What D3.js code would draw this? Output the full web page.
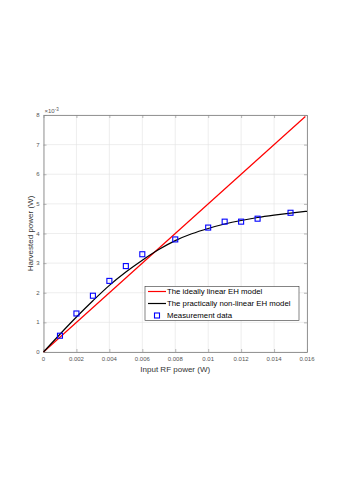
<!DOCTYPE html>
<html>
<head>
<meta charset="utf-8">
<script src="https://cdn.jsdelivr.net/npm/d3@7"></script>
<style>
  body { margin: 0; background: #fff; }
  svg { display: block; font-family: "Liberation Sans", Arial, sans-serif; }
</style>
</head>
<body>
<svg></svg>
<script>
// measurement points (x in W, y in mW)
const measX = [0.001, 0.002, 0.003, 0.004, 0.005, 0.006, 0.008, 0.010, 0.011, 0.012, 0.013, 0.015];
const measY = [0.55, 1.3, 1.9, 2.4, 2.9, 3.3, 3.8, 4.2, 4.4, 4.4, 4.5, 4.7];

// practical non-linear model
const fitX = [0, 0.001, 0.002, 0.003, 0.004, 0.005, 0.006, 0.007, 0.008, 0.009, 0.010, 0.011, 0.012, 0.013, 0.014, 0.015, 0.016];
const fitY = [0, 0.6, 1.18, 1.73, 2.25, 2.7, 3.1, 3.46, 3.76, 3.99, 4.17, 4.32, 4.44, 4.54, 4.62, 4.69, 4.75];

// ideally linear model
const linX = [0, 0.0159];
const linY = [0, 7.95];

const xTicks = [0, 0.002, 0.004, 0.006, 0.008, 0.01, 0.012, 0.014, 0.016];
const xTickLabels = ["0", "0.002", "0.004", "0.006", "0.008", "0.01", "0.012", "0.014", "0.016"];
const yTicks = [0, 1, 2, 3, 4, 5, 6, 7, 8];
const legendLabels = ["The ideally linear EH model", "The practically non-linear EH model", "Measurement data"];

const width = 339, height = 477;
const margin = { top: 115, right: 32, bottom: 125, left: 43.5 };
const innerWidth = width - margin.left - margin.right;
const innerHeight = height - margin.top - margin.bottom;

const x = d3.scaleLinear().domain([0, 0.016]).range([0, innerWidth]);
const y = d3.scaleLinear().domain([0, 8]).range([innerHeight, 0]);

const svg = d3.select("svg").attr("width", width).attr("height", height);
const g = svg.append("g").attr("transform", `translate(${margin.left},${margin.top})`);

// grid
g.append("g").selectAll("line").data(xTicks).enter().append("line")
  .attr("x1", d => x(d)).attr("x2", d => x(d)).attr("y1", 0).attr("y2", innerHeight)
  .attr("stroke", "#e3e3e3").attr("stroke-width", 0.6);
g.append("g").selectAll("line").data(yTicks).enter().append("line")
  .attr("y1", d => y(d)).attr("y2", d => y(d)).attr("x1", 0).attr("x2", innerWidth)
  .attr("stroke", "#e3e3e3").attr("stroke-width", 0.6);

// axes (ticks inside, box on), labels drawn separately
const axisColor = "#8a8a8a";
function styleAxis(sel) {
  sel.select(".domain").attr("stroke", axisColor).attr("stroke-width", 0.9);
  sel.selectAll(".tick line").attr("stroke", axisColor).attr("stroke-width", 0.6);
  sel.selectAll(".tick text").remove();
}
g.append("g").attr("transform", `translate(0,${innerHeight})`)
  .call(d3.axisBottom(x).tickValues(xTicks).tickSizeInner(-3).tickSizeOuter(0)).call(styleAxis);
g.append("g")
  .call(d3.axisTop(x).tickValues(xTicks).tickSizeInner(-3).tickSizeOuter(0)).call(styleAxis);
g.append("g")
  .call(d3.axisLeft(y).tickValues(yTicks).tickSizeInner(-3).tickSizeOuter(0)).call(styleAxis);
g.append("g").attr("transform", `translate(${innerWidth},0)`)
  .call(d3.axisRight(y).tickValues(yTicks).tickSizeInner(-3).tickSizeOuter(0)).call(styleAxis);

g.append("g").selectAll("text").data(xTicks).enter().append("text")
  .attr("x", d => x(d)).attr("y", innerHeight + 8.5)
  .attr("text-anchor", "middle").attr("font-size", "6px").attr("fill", "#555")
  .text((d, i) => xTickLabels[i]);
g.append("g").selectAll("text").data(yTicks).enter().append("text")
  .attr("x", -4).attr("y", d => y(d) + 2.1)
  .attr("text-anchor", "end").attr("font-size", "6px").attr("fill", "#555")
  .text(d => d);

// exponent label
const expo = g.append("text").attr("x", 1).attr("y", -2).attr("fill", "#555").attr("font-size", "6px");
expo.append("tspan").text("\u00d710");
expo.append("tspan").attr("dy", -2.5).attr("font-size", "4.5px").text("-3");

// axis titles
g.append("text").attr("x", innerWidth / 2).attr("y", innerHeight + 20)
  .attr("text-anchor", "middle").attr("font-size", "8px").attr("fill", "#333")
  .text("Input RF power (W)");
g.append("text").attr("transform", `translate(-10.5,${innerHeight / 2}) rotate(-90)`)
  .attr("text-anchor", "middle").attr("font-size", "8px").attr("fill", "#333")
  .text("Harvested power (W)");

// lines
const line = d3.line().x(d => x(d[0])).y(d => y(d[1]));
const linData = linX.map((v, i) => [v, linY[i]]);
const fitData = fitX.map((v, i) => [v, fitY[i]]);
g.append("path").attr("d", line(linData)).attr("fill", "none").attr("stroke", "#ff0000").attr("stroke-width", 1.2);
g.append("path").attr("d", line.curve(d3.curveMonotoneX)(fitData)).attr("fill", "none").attr("stroke", "#000").attr("stroke-width", 1.2);

// markers
const ms = 5;
g.append("g").selectAll("rect").data(measX.map((v, i) => [v, measY[i]])).enter().append("rect")
  .attr("x", d => x(d[0]) - ms / 2).attr("y", d => y(d[1]) - ms / 2)
  .attr("width", ms).attr("height", ms)
  .attr("fill", "none").attr("stroke", "#0000ff").attr("stroke-width", 1.1);

// legend
const lg = svg.append("g").attr("transform", "translate(145,286.5)");
lg.append("rect").attr("width", 154).attr("height", 34).attr("fill", "#fff")
  .attr("stroke", "#333").attr("stroke-width", 0.6);
const rows = [5, 17, 29];
const colors = ["#ff0000", "#000"];
legendLabels.forEach((lab, i) => {
  if (i < 2) {
    lg.append("line").attr("x1", 3).attr("x2", 21).attr("y1", rows[i]).attr("y2", rows[i])
      .attr("stroke", colors[i]).attr("stroke-width", 1.2);
  } else {
    lg.append("rect").attr("x", 12 - ms / 2).attr("y", rows[i] - ms / 2).attr("width", ms).attr("height", ms)
      .attr("fill", "none").attr("stroke", "#0000ff").attr("stroke-width", 1.1);
  }
  lg.append("text").attr("x", 22).attr("y", rows[i] + 2.8).attr("font-size", "7.8px").attr("fill", "#000").text(lab);
});
</script>
</body>
</html>
